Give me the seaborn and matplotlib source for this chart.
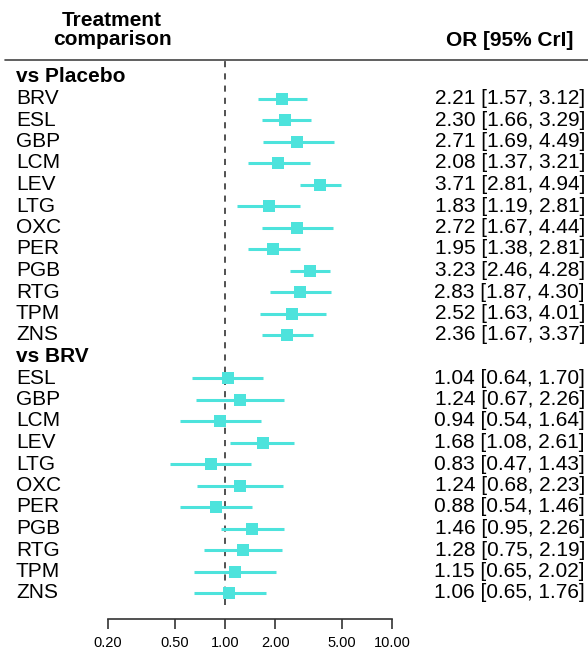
import numpy as np
import pandas as pd
import seaborn as sns
import matplotlib.pyplot as plt
import matplotlib.transforms as mtransforms
from matplotlib.lines import Line2D

sns.set_style("white")
plt.rcParams['font.family'] = ['Liberation Sans', 'DejaVu Sans']
plt.rcParams['text.color'] = 'black'
plt.rcParams['xtick.color'] = 'black'

# data
drugs_pbo = ["BRV", "ESL", "GBP", "LCM", "LEV", "LTG", "OXC", "PER", "PGB", "RTG", "TPM", "ZNS"]
or_pbo = [2.21, 2.30, 2.71, 2.08, 3.71, 1.83, 2.72, 1.95, 3.23, 2.83, 2.52, 2.36]
lo_pbo = [1.57, 1.66, 1.69, 1.37, 2.81, 1.19, 1.67, 1.38, 2.46, 1.87, 1.63, 1.67]
hi_pbo = [3.12, 3.29, 4.49, 3.21, 4.94, 2.81, 4.44, 2.81, 4.28, 4.30, 4.01, 3.37]

drugs_brv = ["ESL", "GBP", "LCM", "LEV", "LTG", "OXC", "PER", "PGB", "RTG", "TPM", "ZNS"]
or_brv = [1.04, 1.24, 0.94, 1.68, 0.83, 1.24, 0.88, 1.46, 1.28, 1.15, 1.06]
lo_brv = [0.64, 0.67, 0.54, 1.08, 0.47, 0.68, 0.54, 0.95, 0.75, 0.65, 0.65]
hi_brv = [1.70, 2.26, 1.64, 2.61, 1.43, 2.23, 1.46, 2.26, 2.19, 2.02, 1.76]

groups = ["vs Placebo", "vs BRV"]
xticks = [0.2, 0.5, 1, 2, 5, 10]

# build row table (header rows have no estimate)
rows = []
for g, drugs, o, l, h in [(groups[0], drugs_pbo, or_pbo, lo_pbo, hi_pbo),
                          (groups[1], drugs_brv, or_brv, lo_brv, hi_brv)]:
    rows.append(dict(label=g, header=True, OR=np.nan, lo=np.nan, hi=np.nan))
    for d, a, b, c in zip(drugs, o, l, h):
        rows.append(dict(label=d, header=False, OR=a, lo=b, hi=c))
df = pd.DataFrame(rows)
df["row"] = np.arange(len(df))
est = df[~df["header"]]

col = "#4de3dc"
W, H = 588, 650
fig = plt.figure(figsize=(W / 100, H / 100), dpi=100)
ax = fig.add_axes([108 / W, (H - 619) / H, (392 - 108) / W, (619 - 60) / H])

ax.hlines(est["row"], est["lo"], est["hi"], color=col, lw=2.2, zorder=2)
sns.scatterplot(data=est, x="OR", y="row", marker="s", s=75, color=col,
                edgecolor=col, linewidth=0, ax=ax, zorder=3, legend=False)
ax.axvline(1, ymin=0.025, ymax=1, color="#222222", ls=(0, (4, 4)), lw=1.1, zorder=1)

ax.set_xscale("log")
ax.set_xlim(0.2, 10)
step = 21.5
top = (60 - 77) / step
bottom = (619 - 77) / step
ax.set_ylim(bottom, top)
ax.set_xticks(xticks)
ax.set_xticklabels([f"{t:.2f}" for t in xticks], fontsize=10.5)
ax.minorticks_off()
ax.set_yticks([])
ax.set_xlabel(None)
ax.set_ylabel(None)
for s in ["top", "right", "left"]:
    ax.spines[s].set_visible(False)
ax.spines["bottom"].set_color("#333333")
ax.spines["bottom"].set_linewidth(1.2)
ax.tick_params(axis="x", length=7, width=1.2, color="#333333", pad=5, bottom=True)

tr = mtransforms.blended_transform_factory(fig.transFigure, ax.transData)
for _, r in df.iterrows():
    ax.text(16 / W, r["row"], r["label"], transform=tr, ha="left", va="center",
            fontsize=15, fontweight="bold" if r["header"] else "normal",
            clip_on=False)
    if not r["header"]:
        ax.text(585 / W, r["row"], f"{r['OR']:.2f} [{r['lo']:.2f}, {r['hi']:.2f}]",
                transform=tr, ha="right", va="center", fontsize=15, clip_on=False)

fig.text(112 / W, 1 - 30 / H, "Treatment\ncomparison", ha="center", va="center",
         fontsize=15, fontweight="bold", linespacing=0.95)
fig.text(573 / W, 1 - 41 / H, "OR [95% CrI]", ha="right", va="center",
         fontsize=15, fontweight="bold")
fig.add_artist(Line2D([5 / W, 1], [1 - 60 / H, 1 - 60 / H], color="#444444", lw=1.2))

fig.savefig("out.png", dpi=100)
